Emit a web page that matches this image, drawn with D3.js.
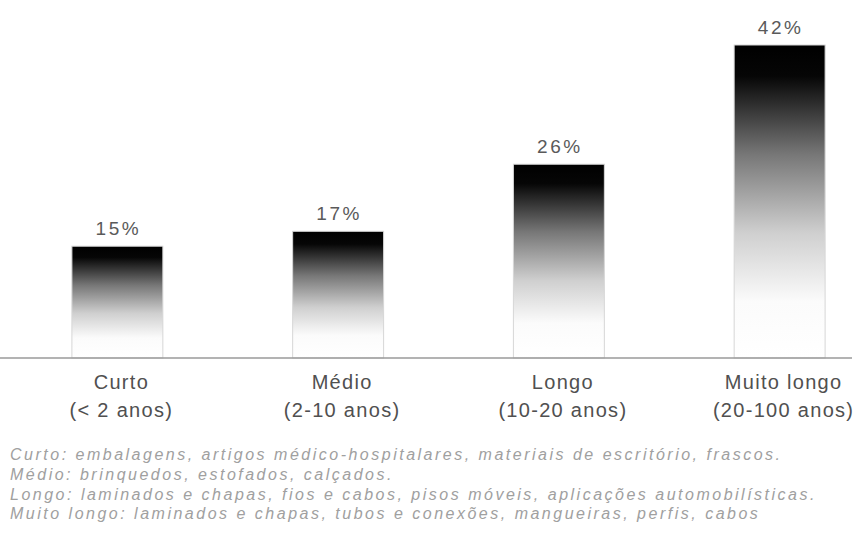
<!DOCTYPE html>
<html>
<head>
<meta charset="utf-8">
<script src="https://cdn.jsdelivr.net/npm/d3@7"></script>
<style>
  html, body { margin: 0; padding: 0; background: #fff; }
  svg { display: block; }
  .cat { font-family: "Liberation Sans", Arial, sans-serif; font-size: 20px; letter-spacing: 1.3px; fill: #505050; }
  .val { font-family: "Liberation Sans", Arial, sans-serif; font-size: 19px; letter-spacing: 2.5px; fill: #5a5a5a; }
  .note { font-family: "Liberation Sans", Arial, sans-serif; font-size: 16px; letter-spacing: 2.5px; font-style: italic; fill: #a0a0a0; }
</style>
</head>
<body>
<div id="chart"></div>
<script>
// dados do gráfico
const categorias = ['Curto', 'Médio', 'Longo', 'Muito longo'];
const periodos = ['(< 2 anos)', '(2-10 anos)', '(10-20 anos)', '(20-100 anos)'];
const percentuais = [15, 17, 26, 42];
const notas = [
  'Curto: embalagens, artigos médico-hospitalares, materiais de escritório, frascos.',
  'Médio: brinquedos, estofados, calçados.',
  'Longo: laminados e chapas, fios e cabos, pisos móveis, aplicações automobilísticas.',
  'Muito longo: laminados e chapas, tubos e conexões, mangueiras, perfis, cabos'
];

const width = 863, height = 541;
const baseY = 358;

const svg = d3.select('#chart').append('svg')
  .attr('width', width)
  .attr('height', height);

// gradiente preto -> branco
const grad = svg.append('defs').append('linearGradient')
  .attr('id', 'fade')
  .attr('x1', 0).attr('y1', 0).attr('x2', 0).attr('y2', 1);
grad.append('stop').attr('offset', 0).attr('stop-color', '#000');
grad.append('stop').attr('offset', 0.1).attr('stop-color', '#060606');
grad.append('stop').attr('offset', 0.35).attr('stop-color', '#777');
grad.append('stop').attr('offset', 0.6).attr('stop-color', '#cfcfcf');
grad.append('stop').attr('offset', 0.82).attr('stop-color', '#fbfbfb');
grad.append('stop').attr('offset', 1).attr('stop-color', '#fff');

const x = d3.scaleBand()
  .domain(categorias)
  .range([7, 890])
  .paddingInner(0.588)
  .paddingOuter(0.294);

const y = d3.scaleLinear()
  .domain([0, 42])
  .range([baseY, 45]);

// barras
svg.append('g')
  .selectAll('rect')
  .data(percentuais)
  .enter().append('rect')
  .attr('x', (d, i) => x(categorias[i]))
  .attr('y', d => y(d))
  .attr('width', x.bandwidth())
  .attr('height', d => baseY - y(d))
  .attr('fill', 'url(#fade)')
  .attr('stroke', '#d6d6d6')
  .attr('stroke-width', 1);

// linha de base
svg.append('line')
  .attr('x1', 0).attr('x2', 852)
  .attr('y1', baseY).attr('y2', baseY)
  .attr('stroke', '#9a9a9a')
  .attr('stroke-width', 1.5);

// rótulos de valor
svg.append('g')
  .selectAll('text')
  .data(percentuais)
  .enter().append('text')
  .attr('class', 'val')
  .attr('x', (d, i) => x(categorias[i]) + x.bandwidth() / 2 + 1)
  .attr('y', d => y(d) - 11)
  .attr('text-anchor', 'middle')
  .text(d => d + '%');

// categorias (duas linhas)
const cat = svg.append('g')
  .selectAll('text')
  .data(categorias)
  .enter().append('text')
  .attr('class', 'cat')
  .attr('text-anchor', 'middle');
cat.append('tspan')
  .attr('x', d => x(d) + x.bandwidth() / 2 + 4)
  .attr('y', 389)
  .text(d => d);
cat.append('tspan')
  .attr('x', d => x(d) + x.bandwidth() / 2 + 4)
  .attr('y', 417)
  .text((d, i) => periodos[i]);

// notas de rodapé
svg.append('g')
  .selectAll('text')
  .data(notas)
  .enter().append('text')
  .attr('class', 'note')
  .attr('x', 10)
  .attr('y', (d, i) => 460 + i * 19.8)
  .text(d => d);
</script>
</body>
</html>
